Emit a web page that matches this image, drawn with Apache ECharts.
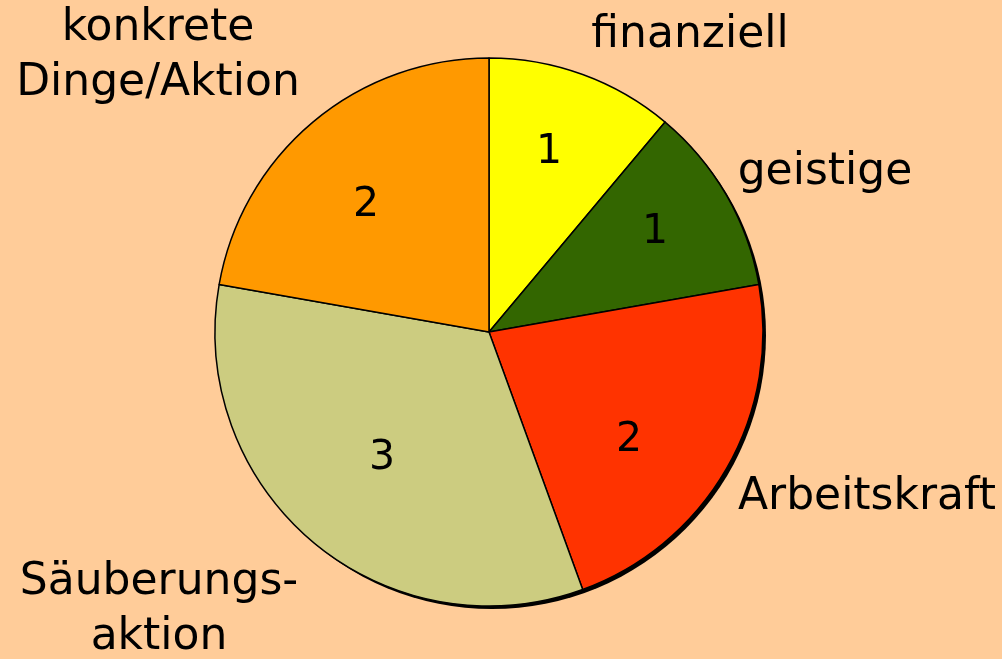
<!DOCTYPE html>
<html>
<head>
<meta charset="utf-8">
<script src="https://cdn.jsdelivr.net/npm/echarts@6/dist/echarts.min.js"></script>
<style>
html,body{margin:0;padding:0;background:#FFCC99;}
#chart{width:1002px;height:659px;}
</style>
</head>
<body>
<div id="chart"></div>
<script>
// Data
var categories = ['finanziell', 'geistige', 'Arbeitskraft', 'Säuberungs-\naktion', 'konkrete\nDinge/Aktion'];
var values = [1, 1, 2, 3, 2];
var colors = ['#FFFF00', '#336600', '#FF3300', '#CCCC80', '#FF9900'];

// Label placement (layout only)
var nameLabelPos = [[690, 36], [825, 173], [867, 498], [159, 610], [158, 56]];
var valueLabelPos = [[549, 152], [655, 232], [629, 440], [382, 458], [366, 205]];

var chart = echarts.init(document.getElementById('chart'));
var FONT = 'DejaVu Sans';
var seriesData = categories.map(function (c, i) {
  return { name: c, value: values[i], itemStyle: { color: colors[i] } };
});

chart.setOption({
  backgroundColor: '#FFCC99',
  animation: false,
  series: [
    {
      // drop shadow disc
      type: 'pie', silent: true,
      center: [492, 335], radius: 274,
      startAngle: 90, clockwise: true,
      label: { show: false }, labelLine: { show: false },
      data: [{ value: 1, itemStyle: { color: '#000' } }]
    },
    {
      type: 'pie',
      center: [489, 332], radius: 274,
      startAngle: 90, clockwise: true,
      avoidLabelOverlap: false,
      itemStyle: { borderColor: '#000', borderWidth: 1.5 },
      label: {
        show: true, position: 'inside', formatter: '{c}',
        color: '#000', fontFamily: FONT, fontSize: 41
      },
      labelLine: { show: false },
      labelLayout: function (p) {
        var pos = valueLabelPos[p.dataIndex];
        return { x: pos[0], y: pos[1], align: 'center', verticalAlign: 'middle' };
      },
      data: seriesData
    },
    {
      type: 'pie', silent: true,
      center: [489, 332], radius: 274,
      startAngle: 90, clockwise: true,
      avoidLabelOverlap: false,
      itemStyle: { color: 'rgba(0,0,0,0)', borderWidth: 0 },
      label: {
        show: true, position: 'outside', formatter: '{b}',
        color: '#000', fontFamily: FONT, fontSize: 44, lineHeight: 55, align: 'center'
      },
      labelLine: { show: false },
      labelLayout: function (p) {
        var pos = nameLabelPos[p.dataIndex];
        return { x: pos[0], y: pos[1], align: 'center', verticalAlign: 'middle' };
      },
      data: categories.map(function (c, i) { return { name: c, value: values[i] }; })
    }
  ]
});
</script>
</body>
</html>
